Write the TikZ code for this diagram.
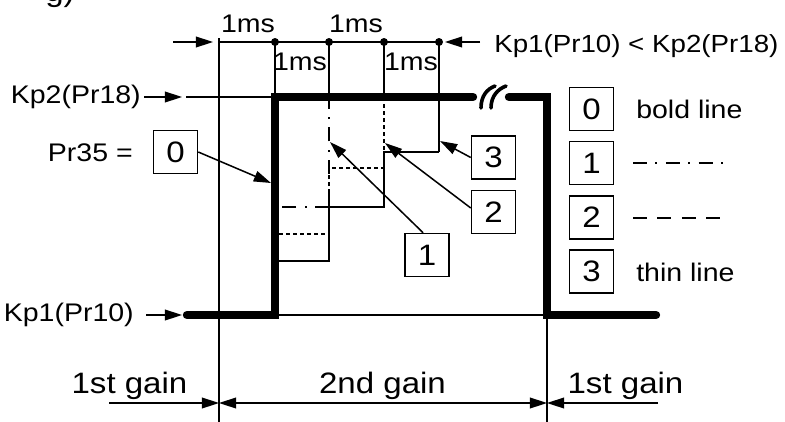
\documentclass[tikz,border=0pt]{standalone}
\usepackage{fontspec}
\setmainfont{Liberation Sans}[FakeStretch=1.12]
\usetikzlibrary{arrows.meta}
\newcommand{\smalltxt}{\fontsize{18.1pt}{21pt}\selectfont}
\newcommand{\bigtxt}{\fontsize{21pt}{25pt}\selectfont}

\begin{document}
\begin{tikzpicture}[x=0.25mm,y=-0.25mm,
  thinln/.style={line width=0.38mm},
  boldln/.style={line width=2.1mm,line cap=round},
  dashdotln/.style={thinln,dash pattern=on 3.5mm off 2.1mm on 0.5mm off 2.1mm},
  dotln/.style={thinln,dash pattern=on 1mm off 0.75mm},
  dashln/.style={thinln,dash pattern=on 3.5mm off 2.6mm},
  tip/.style={thinln,-{Triangle[length=4.3mm,width=2.7mm]}},
  dimboth/.style={thinln,{Triangle[length=4.3mm,width=2.7mm]}-{Triangle[length=4.3mm,width=2.7mm]}},
  numbox/.style={draw,thinln,inner sep=0pt,minimum width=11mm,minimum height=10.75mm,font=\bigtxt},
  lbl/.style={inner sep=0pt,font=\smalltxt},
  gainlbl/.style={inner sep=0pt,font=\bigtxt,anchor=base}]
\useasboundingbox (0,0) rectangle (785,422);
\node[gainlbl,anchor=base west] (figtag) at (45,1) {g)};

% time marks
\draw[thinln] (219,38) -- (219,422);
\draw[thinln] (547,315) -- (547,422);
\draw[thinln] (219,42) -- (439,42);
\foreach \x in {275,329,384} \draw[thinln] (\x,42) -- (\x,97);
\draw[thinln] (439,42) -- (439,152);
\foreach \x in {275,329,384,439} \fill (\x,42) circle (1mm);
\coordinate (ta) at (173,42);
\coordinate (tb) at (213,42);
\coordinate (tc) at (480,42);
\coordinate (td) at (445,42);
\draw[tip] (ta) -- (tb);
\draw[tip] (tc) -- (td);
\node[lbl,anchor=base] (ms1) at (248,32) {1ms};
\node[lbl,anchor=base] (ms2) at (356,32) {1ms};
\node[lbl,anchor=base] (ms3) at (300,70) {1ms};
\node[lbl,anchor=base] (ms4) at (411,70) {1ms};
\node[lbl,anchor=base west,font=\fontsize{17.6pt}{21pt}\selectfont] (cond) at (494,52) {Kp1(Pr10) < Kp2(Pr18)};

% gain levels
\draw[thinln] (186,97) -- (275,97);
\draw[thinln] (275,315) -- (547,315);
\node[lbl,anchor=east] (kp2) at (141,97) {Kp2(Pr18)};
\node[lbl,anchor=east] (kp1) at (134,315) {Kp1(Pr10)};
\coordinate (kp2tip) at (182,97);
\coordinate (kp1tip) at (182,315);
\draw[tip] ([xshift=0.75mm]kp2.east) -- (kp2tip);
\draw[tip] ([xshift=3mm]kp1.east) -- (kp1tip);

% steps 1, 2, 3
\draw[thinln] (275,261) -- (329,261) -- (329,207) -- (384,207) -- (384,152) -- (439,152);
\draw[dashdotln] (329,207) -- (279,207);
\draw[dashdotln] (329,207) -- (329,97);
\draw[dotln] (279,234) -- (329,234) -- (329,168) -- (384,168) -- (384,97);

% step 0, bold
\draw[boldln] (187,315) -- (275,315) -- (275,97) -- (473,97);
\draw[boldln] (509,97) -- (547,97) -- (547,315) -- (656,315);
\draw[line width=0.9mm,line cap=round] (481,108) .. controls (481,96) and (487,89) .. (495,86);
\draw[line width=0.9mm,line cap=round] (491,108) .. controls (491,96) and (498,89) .. (506,86);

% Pr35 boxes and leaders
\node[lbl,anchor=base east] (pr35) at (133,161) {Pr35 =};
\node[numbox] (pr) at (175.5,152) {0};
\node[numbox] (bx1) at (427,255) {1};
\node[numbox] (bx2) at (493.5,212) {2};
\node[numbox] (bx3) at (493.5,157.5) {3};
\coordinate (tip0) at (271,183);
\coordinate (tip1) at (330,142);
\coordinate (tip2) at (385,143);
\coordinate (tip3) at (440,141);
\draw[tip] (pr.east) -- (tip0);
\draw[tip] (bx1.100) -- (tip1);
\draw[tip] (bx2.170) -- (tip2);
\draw[tip] (bx3.west) -- (tip3);

% legend
\node[numbox] (leg0) at (591.5,109) {0};
\node[numbox] (leg1) at (591.5,163) {1};
\node[numbox] (leg2) at (591.5,217.5) {2};
\node[numbox] (leg3) at (591.5,271.5) {3};
\node[lbl,anchor=base west] (bold) at (636,118) {bold line};
\draw[dashdotln] (633,163) -- (728,163);
\draw[dashln] (633,218) -- (720,218);
\node[lbl,anchor=base west] (thin) at (636,281) {thin line};

% gain ranges
\coordinate (g0) at (109,403);
\coordinate (g1) at (219,403);
\coordinate (g2) at (547,403);
\coordinate (g3) at (658,403);
\draw[tip] (g0) -- (g1);
\draw[dimboth] (g1) -- (g2);
\draw[tip] (g3) -- (g2);
\node[gainlbl] (first) at (129.5,393) {1st gain};
\node[gainlbl] (second) at (382.5,393) {2nd gain};
\node[gainlbl] (third) at (625.5,393) {1st gain};
\end{tikzpicture}
\end{document}
